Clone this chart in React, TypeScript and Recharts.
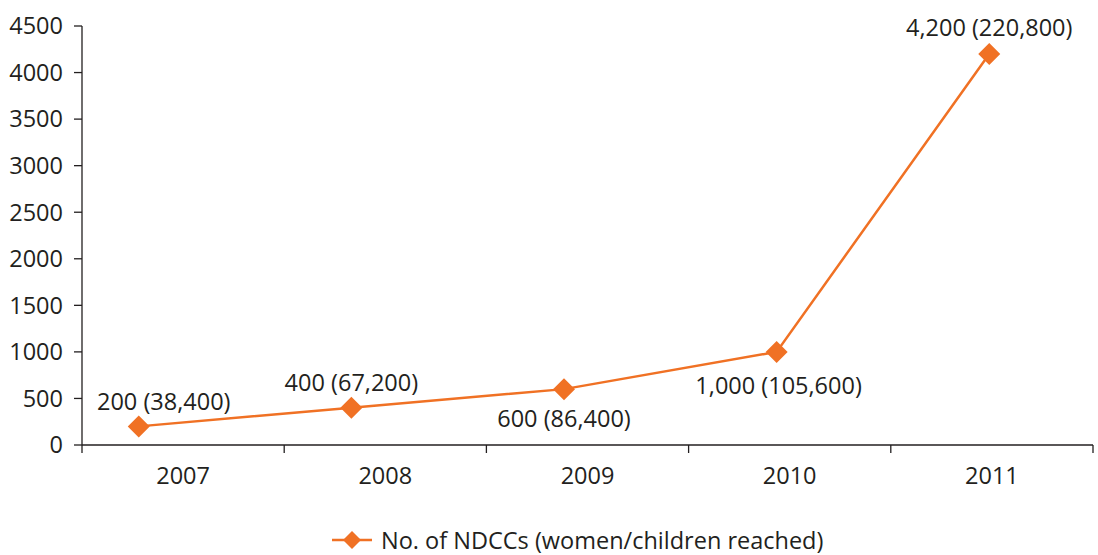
import { LineChart, Line, XAxis, YAxis, Legend, LabelList } from 'recharts';

const YEARS = ['2007', '2008', '2009', '2010', '2011'];
const NDCCS = [200, 400, 600, 1000, 4200];
const REACHED = [38400, 67200, 86400, 105600, 220800];
const Y_TICKS = [0, 500, 1000, 1500, 2000, 2500, 3000, 3500, 4000, 4500];
const SERIES_NAME = 'No. of NDCCs (women/children reached)';

// label placement per point (above / below the marker)
const LABEL_DX = [25, 0, 0, 2, 0];
const LABEL_DY = [-25, -26, 29, 33, -27];

const ORANGE = '#F07124';
const INK = '#231F20';
const FONT = '"Open Sans", sans-serif';
const FS = 23.5;

const rows = YEARS.map((year, i) => ({
  year,
  idx: i,
  ndccs: NDCCS[i],
  label: `${NDCCS[i].toLocaleString('en-US')} (${REACHED[i].toLocaleString('en-US')})`,
}));

const bounds = Array.from({ length: YEARS.length + 1 }, (_, i) => i);

function Diamond(props: any) {
  const { cx, cy } = props;
  if (cx == null || cy == null) return null;
  const r = 11;
  return (
    <polygon
      points={`${cx},${cy - r} ${cx + r},${cy} ${cx},${cy + r} ${cx - r},${cy}`}
      fill={ORANGE}
    />
  );
}

function PointLabel(props: any) {
  const { x, y, index } = props;
  return (
    <text
      x={x + LABEL_DX[index]}
      y={y + LABEL_DY[index]}
      textAnchor="middle"
      dominantBaseline="central"
      fontSize={FS}
      fill={INK}
      fontFamily={FONT}
    >
      {rows[index].label}
    </text>
  );
}

function LegendContent() {
  return (
    <div style={{ display: 'flex', alignItems: 'center', height: 30, fontFamily: FONT, fontSize: FS, color: INK, whiteSpace: 'nowrap' }}>
      <svg width={48} height={30}>
        <line x1={0} y1={15} x2={40} y2={15} stroke={ORANGE} strokeWidth={2.5} />
        <polygon points="20,6 29,15 20,24 11,15" fill={ORANGE} />
      </svg>
      <span style={{ marginLeft: 1 }}>{SERIES_NAME}</span>
    </div>
  );
}

export default function App() {
  return (
    <div style={{ position: 'absolute', left: 0, top: 0, background: '#fff' }}>
      <LineChart width={1098} height={555} data={rows} margin={{ top: 26, right: 5, left: 0, bottom: 0 }}>
        <XAxis
          xAxisId="a_frame"
          dataKey="idx"
          type="number"
          domain={[0, YEARS.length]}
          ticks={bounds}
          tickFormatter={() => ''}
          stroke={INK}
          strokeWidth={1.3}
          tickSize={8}
          height={8}
        />
        <XAxis
          xAxisId="b_cat"
          dataKey="year"
          scale="band"
          interval={0}
          axisLine={false}
          tickLine={false}
          tickSize={0}
          tickMargin={14}
          height={72}
          tick={{ fill: INK, fontSize: FS, fontFamily: FONT }}
        />
        <XAxis
          xAxisId="pos"
          dataKey="idx"
          type="number"
          domain={[-0.267, 4.488]}
          allowDataOverflow
          hide
        />
        <YAxis
          domain={[0, 4500]}
          ticks={Y_TICKS}
          interval={0}
          width={82}
          stroke={INK}
          strokeWidth={1.3}
          tickSize={8}
          tickMargin={11}
          tick={{ fill: INK, fontSize: FS, fontFamily: FONT }}
        />
        <Legend verticalAlign="bottom" content={<LegendContent />} wrapperStyle={{ left: 332, width: 620 }} />
        <Line
          xAxisId="pos"
          dataKey="ndccs"
          name={SERIES_NAME}
          stroke={ORANGE}
          strokeWidth={2.5}
          dot={<Diamond />}
          activeDot={false}
          isAnimationActive={false}
        >
          <LabelList dataKey="label" content={<PointLabel />} />
        </Line>
      </LineChart>
    </div>
  );
}
